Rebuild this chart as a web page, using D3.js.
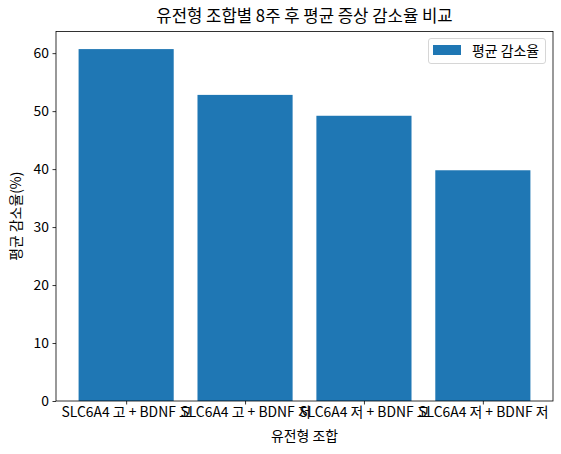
<!DOCTYPE html>
<html><head><meta charset="utf-8">
<script src="https://cdn.jsdelivr.net/npm/d3@7"></script>
<style>
body{margin:0;background:#fff;}
text{font-family:"Noto Sans CJK KR","Noto Sans",sans-serif;fill:#000;}
</style></head>
<body><svg id="c" width="561" height="454"></svg>
<script>
const categories = ["SLC6A4 고 + BDNF 고","SLC6A4 고 + BDNF 저","SLC6A4 저 + BDNF 고","SLC6A4 저 + BDNF 저"];
const values = [60.7, 52.8, 49.2, 39.8];
const yTicks = [0,10,20,30,40,50,60];
const title = "유전형 조합별 8주 후 평균 증상 감소율 비교";
const xLabel = "유전형 조합";
const yLabel = "평균 감소율(%)";
const legendLabel = "평균 감소율";

const svg = d3.select("#c");
const L=56, R=553, T=31.5, B=401;
const color="#1f77b4";
const fs="13.9px";

const x = d3.scaleLinear().domain([-0.59, categories.length-1+0.59]).range([L,R]);
const y = d3.scaleLinear().domain([0, d3.max(values)*1.05]).range([B,T]);

svg.selectAll("rect.bar").data(values).enter().append("rect")
  .attr("class","bar")
  .attr("x",(d,i)=>x(i-0.4)).attr("width",(d,i)=>x(i+0.4)-x(i-0.4))
  .attr("y",d=>y(d)).attr("height",d=>B-y(d)).attr("fill",color);

const yAxis = svg.append("g").attr("transform",`translate(${L},0)`)
  .call(d3.axisLeft(y).tickValues(yTicks).tickSize(3.5).tickPadding(3.5));
const xAxis = svg.append("g").attr("transform",`translate(0,${B})`)
  .call(d3.axisBottom(x).tickValues(d3.range(categories.length)).tickFormat(i=>categories[i]).tickSize(3.5).tickPadding(3));
[yAxis,xAxis].forEach(g=>{
  g.select(".domain").remove();
  g.selectAll("line").attr("stroke","#000").attr("stroke-width",0.8);
  g.selectAll("text").style("font-size",fs).attr("font-family",null);
});

svg.append("rect").attr("x",L).attr("y",T).attr("width",R-L).attr("height",B-T)
  .attr("fill","none").attr("stroke","#000").attr("stroke-width",0.8);

svg.append("text").attr("x",(L+R)/2).attr("y",21.5).attr("text-anchor","middle")
  .style("font-size","16.7px").text(title);
svg.append("text").attr("x",(L+R)/2).attr("y",441).attr("text-anchor","middle")
  .style("font-size",fs).text(xLabel);
svg.append("text").attr("transform",`translate(21,${(T+B)/2}) rotate(-90)`).attr("text-anchor","middle")
  .style("font-size",fs).text(yLabel);

// legend
const lg = svg.append("g");
lg.append("rect").attr("x",428.5).attr("y",38.5).attr("width",117).attr("height",25).attr("rx",2.5)
  .attr("fill","#fff").attr("fill-opacity",0.8).attr("stroke","#ccc").attr("stroke-width",0.8);
lg.append("rect").attr("x",433).attr("y",45).attr("width",28).attr("height",10).attr("fill",color);
lg.append("text").attr("x",472).attr("y",55.5).style("font-size",fs).text(legendLabel);
</script></body></html>
